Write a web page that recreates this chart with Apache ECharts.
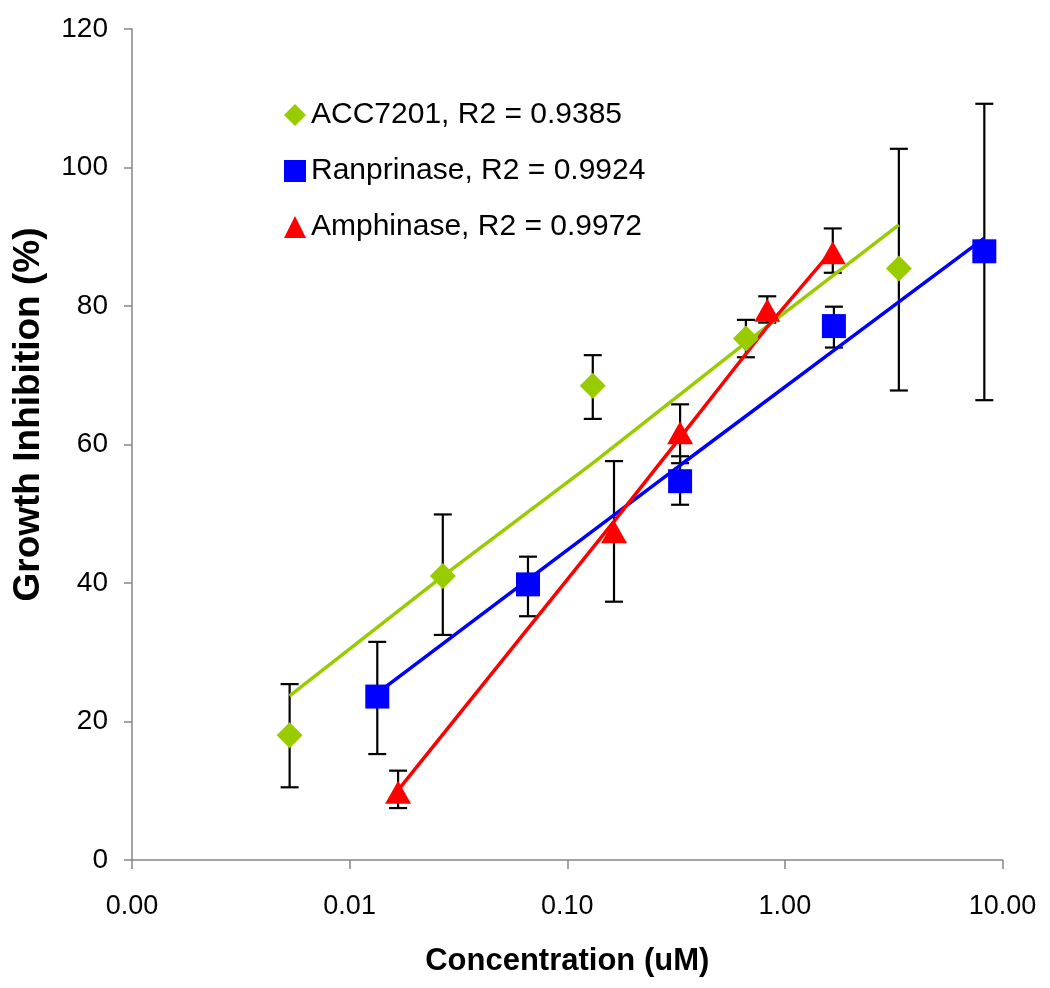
<!DOCTYPE html>
<html>
<head>
<meta charset="utf-8">
<script src="https://cdn.jsdelivr.net/npm/echarts@6/dist/echarts.min.js"></script>
<style>html,body{margin:0;padding:0;background:#fff}#chart{width:1050px;height:988px}</style>
</head>
<body>
<div id="chart"></div>
<script>
// ---- data ----
var seriesNames = ['ACC7201, R2 = 0.9385', 'Ranprinase, R2 = 0.9924', 'Amphinase, R2 = 0.9972'];

var accX    = [0.0053, 0.0268, 0.131, 0.662, 3.34];
var accY    = [18.0, 41.0, 68.5, 75.3, 85.4];
var accLow  = [10.5, 32.5, 63.7, 72.6, 67.8];
var accHigh = [25.4, 49.9, 72.9, 78.0, 102.7];
var accFit  = [23.7, 41.0, 57.3, 74.7, 91.7];

var ranX    = [0.0134, 0.066, 0.33, 1.68, 8.25];
var ranY    = [23.6, 39.8, 54.7, 77.1, 87.9];
var ranLow  = [15.3, 35.2, 51.3, 74.0, 66.4];
var ranHigh = [31.5, 43.8, 58.3, 79.9, 109.2];
var ranFit  = [24.1, 40.5, 57.0, 73.6, 89.8];

var ampX    = [0.0167, 0.164, 0.33, 0.83, 1.66];
var ampY    = [9.8, 47.4, 61.7, 79.4, 87.7];
var ampLow  = [7.5, 37.3, 57.3, 77.6, 84.8];
var ampHigh = [12.9, 57.6, 65.8, 81.4, 91.2];
var ampFit  = [10.1, 48.9, 61.0, 77.0, 88.1];

var xTickValues = [0.001, 0.01, 0.1, 1, 10];
var yTicks = [0, 20, 40, 60, 80, 100, 120];

// ---- helpers ----
function pairs(xs, ys) { return xs.map(function (x, i) { return [x, ys[i]]; }); }
function triples(xs, lo, hi) { return xs.map(function (x, i) { return [x, lo[i], hi[i]]; }); }

var FONT = 'Liberation Sans';
var colors = ['#99CC00', '#0000FF', '#FF0000'];

function errorSeries(data) {
  return {
    type: 'custom',
    z: 1,
    silent: true,
    data: data,
    encode: { x: 0, y: [1, 2] },
    renderItem: function (params, api) {
      var x = api.value(0);
      var lo = api.coord([x, api.value(1)]);
      var hi = api.coord([x, api.value(2)]);
      var h = 9;
      var st = { stroke: '#000', lineWidth: 2.2, fill: null };
      return {
        type: 'group',
        children: [
          { type: 'line', shape: { x1: lo[0], y1: lo[1], x2: hi[0], y2: hi[1] }, style: st },
          { type: 'line', shape: { x1: lo[0] - h, y1: lo[1], x2: lo[0] + h, y2: lo[1] }, style: st },
          { type: 'line', shape: { x1: hi[0] - h, y1: hi[1], x2: hi[0] + h, y2: hi[1] }, style: st }
        ]
      };
    }
  };
}

function fitSeries(name, data, color) {
  return {
    name: name, type: 'line', z: 2, data: data, showSymbol: false, symbol: 'none',
    lineStyle: { color: color, width: 3.5 }, silent: true
  };
}

function pointSeries(name, data, color, symbol, size) {
  return {
    name: name, type: 'scatter', z: 3, data: data, symbol: symbol, symbolSize: size,
    itemStyle: { color: color, opacity: 1 }
  };
}

var chart = echarts.init(document.getElementById('chart'), null, { renderer: 'canvas' });

var option = {
  backgroundColor: '#fff',
  animation: false,
  textStyle: { fontFamily: FONT },
  grid: { left: 132, right: 47.5, top: 29, bottom: 128, containLabel: false },
  legend: {
    orient: 'vertical',
    left: 279,
    top: 95,
    itemWidth: 22,
    itemHeight: 22,
    itemGap: 26,
    data: seriesNames,
    selectedMode: false,
    textStyle: { fontFamily: FONT, fontSize: 30, color: '#000', lineHeight: 22, padding: [0, 0, 0, 0] }
  },
  xAxis: {
    type: 'log',
    logBase: 10,
    min: xTickValues[0],
    max: xTickValues[xTickValues.length - 1],
    name: 'Concentration (uM)',
    nameLocation: 'middle',
    nameGap: 86,
    nameTextStyle: { fontFamily: FONT, fontSize: 31, fontWeight: 'bold', color: '#000' },
    axisLine: { lineStyle: { color: '#868686', width: 1.5 } },
    axisTick: { show: true, inside: false, length: 9, lineStyle: { color: '#868686', width: 1.5 } },
    minorTick: { show: false },
    splitLine: { show: false },
    axisLabel: {
      fontFamily: FONT, fontSize: 27, color: '#000', margin: 33,
      formatter: function (v) { return Number(v).toFixed(2); }
    }
  },
  yAxis: {
    type: 'value',
    min: yTicks[0],
    max: yTicks[yTicks.length - 1],
    interval: 20,
    name: 'Growth Inhibition (%)',
    nameLocation: 'middle',
    nameRotate: 90,
    nameGap: 85,
    nameTextStyle: { fontFamily: FONT, fontSize: 37, fontWeight: 'bold', color: '#000', padding: [0, 0, 0, 60] },
    axisLine: { show: true, lineStyle: { color: '#868686', width: 1.5 } },
    axisTick: { show: true, inside: false, length: 8, lineStyle: { color: '#868686', width: 1.5 } },
    splitLine: { show: false },
    axisLabel: { fontFamily: FONT, fontSize: 28, color: '#000', margin: 24 }
  },
  series: [
    errorSeries(triples(accX, accLow, accHigh)),
    errorSeries(triples(ranX, ranLow, ranHigh)),
    errorSeries(triples(ampX, ampLow, ampHigh)),
    fitSeries('ACC7201 fit', pairs(accX, accFit), colors[0]),
    fitSeries('Ranprinase fit', pairs(ranX, ranFit), colors[1]),
    fitSeries('Amphinase fit', pairs(ampX, ampFit), colors[2]),
    pointSeries(seriesNames[0], pairs(accX, accY), colors[0], 'diamond', [26, 26]),
    pointSeries(seriesNames[1], pairs(ranX, ranY), colors[1], 'rect', [24, 24]),
    pointSeries(seriesNames[2], pairs(ampX, ampY), colors[2], 'triangle', [26, 23])
  ]
};
chart.setOption(option);
</script>
</body>
</html>
